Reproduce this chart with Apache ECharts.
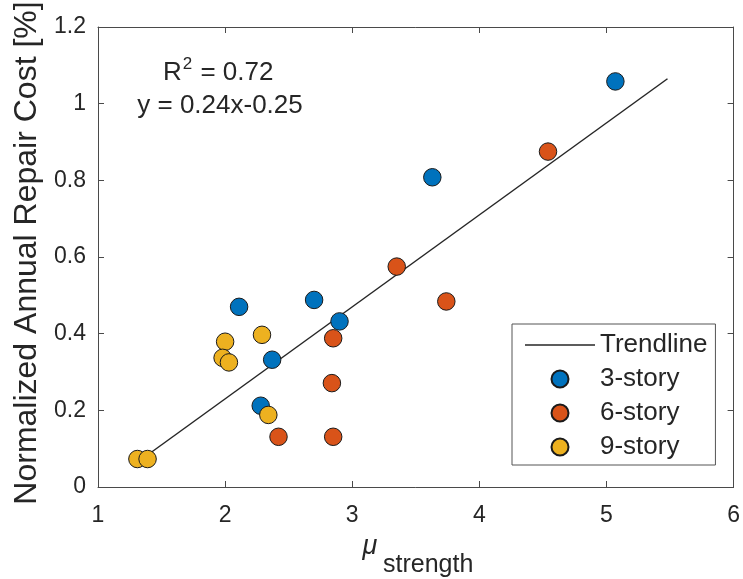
<!DOCTYPE html>
<html><head><meta charset="utf-8">
<script src="https://cdn.jsdelivr.net/npm/echarts@6/dist/echarts.min.js"></script>
<style>html,body{margin:0;padding:0;background:#fff}#c{width:743px;height:579px}</style>
</head><body><div id="c"></div>
<script>
// ---- data ----
const story3X = [2.11, 2.37, 2.28, 2.70, 2.90, 3.63, 5.07];
const story3Y = [0.470, 0.332, 0.212, 0.488, 0.432, 0.808, 1.058];
const story6X = [2.42, 2.85, 2.84, 2.85, 3.35, 3.74, 4.54];
const story6Y = [0.131, 0.388, 0.271, 0.131, 0.575, 0.484, 0.875];
const story9X = [1.31, 1.39, 2.00, 1.98, 2.03, 2.29, 2.34];
const story9Y = [0.073, 0.073, 0.379, 0.337, 0.325, 0.397, 0.188];
const trendX = [1.30, 5.48];
const trendY = [0.062, 1.065];
const xTicks = [1, 2, 3, 4, 5, 6];
const yTicks = [0, 0.2, 0.4, 0.6, 0.8, 1, 1.2];
const seriesNames = ['Trendline', '3-story', '6-story', '9-story'];
const annotEq = 'y = 0.24x-0.25';

const pairs = (xs, ys) => xs.map((x, i) => [x, ys[i]]);
const FONT = '"Liberation Sans", Arial, sans-serif';
const AX = '#4a4a4a';
const TXT = '#262626';

const chart = echarts.init(document.getElementById('c'), null, {renderer: 'canvas'});
const axisCommon = {
  axisLine: {show: true, onZero: false, lineStyle: {color: AX, width: 1}},
  axisTick: {show: true, inside: true, length: 6, lineStyle: {color: AX}},
  splitLine: {show: false}
};
const scatterBase = {
  type: 'scatter', symbol: 'circle', symbolSize: 17.5, z: 5,
  itemStyle: {borderColor: '#1a1a1a', borderWidth: 1, opacity: 1}
};
chart.setOption({
  animation: false,
  backgroundColor: '#fff',
  grid: {left: 98, right: 3, top: 27, bottom: 92, containLabel: false},
  xAxis: [
    Object.assign({}, axisCommon, {
      type: 'value', position: 'bottom', min: xTicks[0], max: xTicks[xTicks.length - 1], interval: 1,
      axisLabel: {show: true, margin: 17, fontSize: 23, color: TXT, fontFamily: FONT}
    }),
    Object.assign({}, axisCommon, {
      type: 'value', position: 'top', min: xTicks[0], max: xTicks[xTicks.length - 1], interval: 1,
      axisLabel: {show: false}
    })
  ],
  yAxis: [
    Object.assign({}, axisCommon, {
      type: 'value', position: 'left', min: yTicks[0], max: yTicks[yTicks.length - 1], interval: 0.2,
      axisLabel: {show: true, margin: 12, fontSize: 23, color: TXT, fontFamily: FONT}
    }),
    Object.assign({}, axisCommon, {
      type: 'value', position: 'right', min: yTicks[0], max: yTicks[yTicks.length - 1], interval: 0.2,
      axisLabel: {show: false}
    })
  ],
  legend: {
    orient: 'vertical', left: 512, top: 324,
    data: [
      {name: seriesNames[0], icon: 'path://M0,0H70V1.5H0Z'},
      {name: seriesNames[1], icon: 'circle'},
      {name: seriesNames[2], icon: 'circle'},
      {name: seriesNames[3], icon: 'circle'}
    ],
    itemWidth: 70, itemHeight: 17, itemGap: 4, itemTextGap: 4,
    padding: [6, 8, 3, 13],
    borderColor: '#555', borderWidth: 1, backgroundColor: '#fff',
    textStyle: {fontSize: 26, color: TXT, fontFamily: FONT, lineHeight: 30},
    selectedMode: false
  },
  series: [
    {
      name: seriesNames[0], type: 'line', data: pairs(trendX, trendY),
      symbol: 'none', z: 2, lineStyle: {color: '#262626', width: 1.5}, itemStyle: {color: '#262626'}
    },
    Object.assign({}, scatterBase, {name: seriesNames[1], data: pairs(story3X, story3Y), itemStyle: Object.assign({}, scatterBase.itemStyle, {color: '#0072BD'})}),
    Object.assign({}, scatterBase, {name: seriesNames[2], data: pairs(story6X, story6Y), itemStyle: Object.assign({}, scatterBase.itemStyle, {color: '#D95319'})}),
    Object.assign({}, scatterBase, {name: seriesNames[3], data: pairs(story9X, story9Y), itemStyle: Object.assign({}, scatterBase.itemStyle, {color: '#EDB120'})})
  ],
  graphic: [
    {
      type: 'text', left: 163, top: 56, z: 10,
      style: {
        text: '{a|R}{s|2}{a| = 0.72}',
        rich: {
          a: {fontSize: 26, fontFamily: FONT, fill: TXT, lineHeight: 30, verticalAlign: 'bottom'},
          s: {fontSize: 17, fontFamily: FONT, fill: TXT, lineHeight: 30, verticalAlign: 'top', padding: [0, 1, 0, 1]}
        }
      }
    },
    {
      type: 'text', x: 220, y: 106, z: 10,
      style: {text: annotEq, fontSize: 26, fontFamily: FONT, fill: TXT, align: 'center', verticalAlign: 'middle'}
    },
    {
      type: 'text', x: 27, y: 253, rotation: Math.PI / 2, z: 10,
      style: {text: 'Normalized Annual Repair Cost [%]', fontSize: 32, fontFamily: FONT, fill: TXT, align: 'center', verticalAlign: 'middle'}
    },
    {
      type: 'text', x: 370, y: 560, z: 10,
      style: {text: 'μ', fontSize: 27, fontStyle: 'italic', fontFamily: FONT, fill: TXT, align: 'center', verticalAlign: 'bottom'}
    },
    {
      type: 'text', x: 383, y: 565, z: 10,
      style: {text: 'strength', fontSize: 25, fontFamily: FONT, fill: TXT, align: 'left', verticalAlign: 'middle'}
    }
  ]
});
</script>
</body></html>
